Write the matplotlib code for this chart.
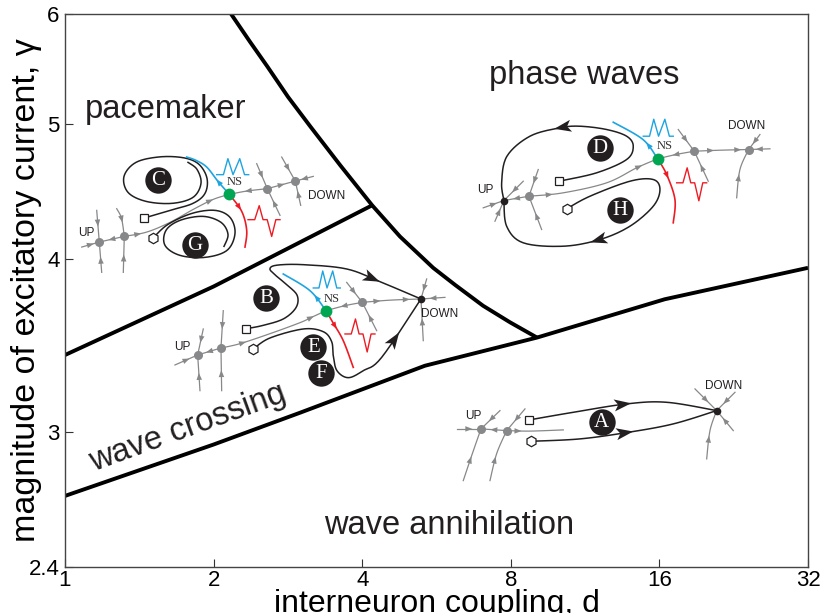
import numpy as np
import matplotlib
matplotlib.use("Agg")
import matplotlib.pyplot as plt
import matplotlib.transforms as mtransforms
from matplotlib.patches import Polygon

plt.rcParams["font.family"] = ["Liberation Sans", "DejaVu Sans"]

# ---- phase-diagram boundaries (d, gamma) ----
upper_d = [2.17, 2.37, 2.57, 2.83, 3.14, 3.61, 4.19, 4.77, 5.57, 6.17, 7.03, 7.97, 9.04]
upper_g = [6.0, 5.73, 5.50, 5.23, 4.98, 4.67, 4.37, 4.15, 3.94, 3.83, 3.70, 3.60, 3.51]
middle_d = [1.0, 2.0, 4.19]
middle_g = [3.41, 3.82, 4.37]
lower_d = [1.0, 2.0, 3.0, 5.36, 9.04, 16.4, 32.0]
lower_g = [2.70, 2.94, 3.10, 3.35, 3.51, 3.74, 3.94]

region_names = ["pacemaker", "phase waves", "wave crossing", "wave annihilation"]
region_d = [1.60, 11.26, 1.77, 6.0]
region_g = [5.12, 5.42, 3.02, 2.57]
region_rot = [0, 0, 20, 0]

d_ticks = [1, 2, 4, 8, 16, 32]
g_ticks = [2.4, 3, 4, 5, 6]
g_ticklabels = ["2.4", "3", "4", "5", "6"]

# anchor of each schematic inset (d, gamma)
panel_d = [2.152, 3.378, 15.87, 20.9]
panel_g = [4.45, 3.67, 4.72, 3.11]

GRAY = "#87888a"
BLACK = "#231f20"
BLUE = "#1ea4e0"
RED = "#ed1c24"
GREEN = "#00a651"

# blue / red spike templates (fraction of width, fraction of height)
blue_wave_x = [0, 0.21, 0.35, 0.51, 0.72, 0.87, 1.0]
blue_wave_y = [0, 0, 1, 0, 1, 0, 0]
red_wave_x = [0, 0.21, 0.35, 0.47, 0.6, 0.74, 0.87, 1.0]
red_wave_y = [0, 0, 1, 0, 0, -1.2, 0, 0]

# ---- schematic insets, sketch coordinates (px, y down) ----
pacemaker = dict(
    ref=(229.3, 194),
    gray=[
        ([(81.7, 246.7), (99.3, 241.7)], [0.5]),
        ([(124.3, 236), (99.3, 241.7)], [0.5]),
        ([(124.3, 236), (146.7, 231.7), (170, 222), (193.3, 209), (213.3, 199), (229.3, 194)], [0.12, 0.82]),
        ([(267.3, 188.3), (246.7, 190.7), (229.3, 194)], [0.5]),
        ([(267.3, 188.3), (295.3, 180.7)], [0.5]),
        ([(313.3, 176), (295.3, 180.7)], [0.5]),
        ([(96.7, 210), (99.3, 241.7)], [0.4]),
        ([(101.7, 272), (99.3, 241.7)], [0.4]),
        ([(116.7, 208.3), (121.5, 218), (124.3, 236)], [0.4]),
        ([(123.3, 272), (124.3, 236)], [0.4]),
        ([(256.7, 163.3), (267.3, 188.3)], [0.45]),
        ([(280, 215), (267.3, 188.3)], [0.45]),
        ([(281.7, 156.7), (295.3, 180.7)], [0.45]),
        ([(300.7, 205), (295.3, 180.7)], [0.45]),
    ],
    nodes=[((99.3, 241.7), GRAY), ((124.3, 236), GRAY), ((267.3, 188.3), GRAY), ((295.3, 180.7), GRAY)],
    ns=(229.3, 194),
    blue=[(229.3, 194), (218, 181), (206.7, 166.7), (196, 160), (186.7, 156.7)],
    red=[(229.3, 194), (241.7, 211), (246.7, 230), (245, 246.7)],
    blue_wave=(216.7, 174.3, 32, 16),
    red_wave=(248, 219.3, 32, 14),
    traj=[
        ([(144, 217.7), (170, 210), (193, 203), (205, 193), (207, 178), (199, 164), (184, 157.5), (160, 156.5),
          (136, 162), (124, 176), (128, 192), (146, 201), (172, 203), (193, 197), (201, 183), (197, 169), (188, 162)], None),
        ([(153.3, 237.3), (168, 224), (192, 213), (215, 210), (230, 217), (235, 233), (227, 250), (205, 257),
          (180, 255), (165, 245), (166, 230), (180, 220), (203, 216), (221, 222), (228, 234), (224, 246)], None),
    ],
    square=(144, 217.7), hexagon=(153.3, 237.3),
    labels=[("C", (158.3, 180)), ("G", (195, 245))],
    up=(86.7, 232.3), down=(326.7, 196), ns_text=(235, 181.7),
)

crossing = dict(
    ref=(326, 310),
    gray=[
        ([(175, 364.3), (197.7, 354.3)], [0.5]),
        ([(221, 347.3), (197.7, 354.3)], [0.5]),
        ([(221, 347.3), (240, 343), (270, 333), (300, 322), (313, 316), (326, 310)], [0.2, 0.85]),
        ([(362.3, 301.7), (345, 305), (326, 310)], [0.5]),
        ([(362.3, 301.7), (390, 299.5), (421, 298.3)], [0.25, 0.75]),
        ([(445, 296.7), (421, 298.3)], [0.5]),
        ([(203.3, 328.3), (197.7, 354.3)], [0.4]),
        ([(200, 390), (197.7, 354.3)], [0.4]),
        ([(223.3, 310), (221, 347.3)], [0.4]),
        ([(221.7, 390), (221, 347.3)], [0.4]),
        ([(346.7, 281.7), (362.3, 301.7)], [0.45]),
        ([(376.7, 330), (362.3, 301.7)], [0.45]),
        ([(426.7, 278.3), (421, 298.3)], [0.45]),
        ([(423.3, 340), (421, 298.3)], [0.45]),
    ],
    nodes=[((197.7, 354.3), GRAY), ((221, 347.3), GRAY), ((362.3, 301.7), GRAY), ((421, 298.3), BLACK)],
    ns=(326, 310),
    blue=[(326, 310), (310, 290), (283.3, 273.3)],
    red=[(326, 310), (333, 322), (343.3, 340), (353.3, 366.7)],
    blue_wave=(313.3, 287.3, 27, 17),
    red_wave=(345, 333.3, 30, 15),
    traj=[
        ([(246, 328), (262, 325), (283.3, 318.3), (296, 307), (297.3, 295), (288, 285), (276, 275), (270, 268.3),
          (277, 264.5), (303.3, 264), (346.7, 268.3), (380, 281), (421, 298.3)], 0.8),
        ([(253.3, 348.3), (270, 337.3), (303.3, 328.3), (323.3, 331), (331.7, 341), (333.3, 355), (337, 370),
          (348.3, 377), (363.3, 370), (381.7, 356.7), (421, 298.3)], 0.8),
    ],
    square=(246, 328), hexagon=(253.3, 348.3),
    labels=[("B", (266, 297.7)), ("E", (313.3, 346.7)), ("F", (321, 372.7))],
    up=(182.7, 346.7), down=(440, 313.3), ns_text=(331.7, 298.3),
)

phase = dict(
    ref=(657.7, 159.3),
    gray=[
        ([(483.3, 208.3), (504, 201)], [0.5]),
        ([(529, 196.7), (504, 201)], [0.5]),
        ([(529, 196.7), (563.3, 193.3), (606.7, 183.3), (636.7, 168.3), (657.7, 159.3)], [0.15, 0.85]),
        ([(694.3, 151.7), (676, 155), (657.7, 159.3)], [0.5]),
        ([(694.3, 151.7), (720, 150.7), (748.7, 150)], [0.3, 0.8]),
        ([(770, 149.3), (748.7, 150)], [0.5]),
        ([(523.3, 181.7), (504, 201)], [0.45]),
        ([(495, 221.7), (504, 201)], [0.45]),
        ([(538.3, 170), (529, 196.7)], [0.4]),
        ([(541.7, 230), (529, 196.7)], [0.4]),
        ([(678.3, 130), (694.3, 151.7)], [0.45]),
        ([(708.3, 181.7), (694.3, 151.7)], [0.45]),
        ([(760, 135), (748.7, 150)], [0.45]),
        ([(736.7, 198.3), (740, 170), (748.7, 150)], [0.4]),
    ],
    nodes=[((504, 201), BLACK), ((529, 196.7), GRAY), ((694.3, 151.7), GRAY), ((748.7, 150), GRAY)],
    ns=(657.7, 159.3),
    blue=[(657.7, 159.3), (643, 140), (613.3, 122.7)],
    red=[(657.7, 159.3), (666.7, 175), (675, 200), (673.3, 223.3)],
    blue_wave=(643.3, 136.7, 30, 17),
    red_wave=(676.7, 183.3, 30, 15),
    traj=[
        ([(559, 181.7), (596.7, 173.3), (626.7, 160), (633.3, 146.7), (626.7, 136.7), (606.7, 130), (580, 126.7),
          (560, 128.3), (530, 136.7), (507, 156.7), (501.7, 183.3), (504, 201)], 0.6),
        ([(566.7, 209.3), (590, 196.7), (630, 181.7), (653.3, 180), (660, 190), (653.3, 206.7), (630, 226.7),
          (600, 240), (563.3, 246.7), (523.3, 243.3), (506.7, 226.7), (504, 201)], 0.6),
    ],
    square=(559, 181.7), hexagon=(566.7, 209.3),
    labels=[("D", (600, 148.3)), ("H", (620, 210))],
    up=(485, 190.7), down=(746.7, 126), ns_text=(665, 146),
)

annihilation = dict(
    ref=(716.7, 410),
    gray=[
        ([(456.7, 428.3), (481, 428.3)], [0.5]),
        ([(506.7, 430), (481, 428.3)], [0.5]),
        ([(506.7, 430), (530, 430.5), (563.3, 429.3)], [0.2]),
        ([(500, 410), (481, 428.3)], [0.45]),
        ([(463.3, 480), (471.7, 455), (481, 428.3)], [0.4]),
        ([(525, 408.3), (506.7, 430)], [0.45]),
        ([(490, 480), (496.7, 453), (506.7, 430)], [0.4]),
        ([(695, 388.3), (716.7, 410)], [0.5]),
        ([(735, 391.7), (716.7, 410)], [0.5]),
        ([(733.3, 430), (716.7, 410)], [0.5]),
        ([(706.7, 458.3), (710, 430), (716.7, 410)], [0.4]),
    ],
    nodes=[((481, 428.3), GRAY), ((506.7, 430), GRAY), ((716.7, 410), BLACK)],
    ns=None, blue=None, red=None, blue_wave=None, red_wave=None,
    traj=[
        ([(529.3, 419.3), (573.3, 411.7), (626.7, 403.3), (666.7, 401.7), (716.7, 410)], 0.5),
        ([(530.7, 440.7), (580, 438.3), (628.3, 431.7), (673.3, 423.3), (716.7, 410)], 0.5),
    ],
    square=(529.3, 419.3), hexagon=(530.7, 440.7),
    labels=[("A", (601.7, 421.7))],
    up=(473.3, 415), down=(723.3, 385), ns_text=None,
)

panels = [pacemaker, crossing, phase, annihilation]


def smooth(pts, n=16):
    """Catmull-Rom curve through the sketch points."""
    p = np.asarray(pts, float)
    if len(p) < 3:
        return p
    p = np.vstack([p[0], p, p[-1]])
    out = []
    t = np.linspace(0, 1, n, endpoint=False)[:, None]
    for i in range(1, len(p) - 2):
        p0, p1, p2, p3 = p[i - 1], p[i], p[i + 1], p[i + 2]
        out.append(0.5 * (2 * p1 + (-p0 + p2) * t + (2 * p0 - 5 * p1 + 4 * p2 - p3) * t ** 2
                          + (-p0 + 3 * p1 - 3 * p2 + p3) * t ** 3))
    out.append(p[-2][None])
    return np.vstack(out)


def arrowhead(ax, tr, curve, frac, length, width, color, notch=0.0, z=5):
    seg = np.diff(curve, axis=0)
    seglen = np.hypot(seg[:, 0], seg[:, 1])
    keep = seglen > 1e-9
    seg, seglen = seg[keep], seglen[keep]
    base = curve[:-1][keep]
    cum = np.concatenate([[0], np.cumsum(seglen)])
    s = frac * cum[-1]
    i = int(np.clip(np.searchsorted(cum, s, side="right") - 1, 0, len(seg) - 1))
    u = seg[i] / seglen[i]
    c = base[i] + u * (s - cum[i])
    nrm = np.array([-u[1], u[0]])
    tip = c + u * length / 2
    back = c - u * length / 2
    pts = [tip, back + nrm * width / 2, back + u * notch, back - nrm * width / 2]
    ax.add_patch(Polygon(pts, closed=True, facecolor=color, edgecolor="none",
                         transform=tr, clip_on=False, zorder=z))


def draw_panel(ax, d0, g0, p):
    tr = (mtransforms.Affine2D().translate(-p["ref"][0], -p["ref"][1]).scale(1, -1)
          + mtransforms.ScaledTranslation(d0, g0, ax.transData))

    for pts, fracs in p["gray"]:
        c = smooth(pts)
        ax.plot(c[:, 0], c[:, 1], color=GRAY, lw=0.9, transform=tr, zorder=3, clip_on=False)
        for f in fracs:
            arrowhead(ax, tr, c, f, 7, 5.5, GRAY, z=3.5)

    for pts, frac in p["traj"]:
        c = smooth(pts)
        ax.plot(c[:, 0], c[:, 1], color=BLACK, lw=1.1, transform=tr, zorder=4, clip_on=False)
        if frac is not None:
            arrowhead(ax, tr, c, frac, 17, 12, BLACK, notch=4, z=4.5)

    for key, col in (("blue", BLUE), ("red", RED)):
        if p[key] is None:
            continue
        c = smooth(p[key])
        ax.plot(c[:, 0], c[:, 1], color=col, lw=1.2, transform=tr, zorder=4, clip_on=False)
        arrowhead(ax, tr, c, 0.28, 7, 5.5, col, z=4.5)

    if p["blue_wave"] is not None:
        x0, y0, w, h = p["blue_wave"]
        ax.plot(x0 + w * np.array(blue_wave_x), y0 - h * np.array(blue_wave_y),
                color=BLUE, lw=1.0, transform=tr, zorder=4, clip_on=False)
        x0, y0, w, h = p["red_wave"]
        ax.plot(x0 + w * np.array(red_wave_x), y0 - h * np.array(red_wave_y),
                color=RED, lw=1.0, transform=tr, zorder=4, clip_on=False)

    for (x, y), col in p["nodes"]:
        ms = 5.5 if col == BLACK else 6.5
        ax.plot([x], [y], "o", ms=ms, color=col, mec="none", transform=tr, zorder=6, clip_on=False)
    if p["ns"] is not None:
        ax.plot([p["ns"][0]], [p["ns"][1]], "o", ms=8.5, color=GREEN, mec="none",
                transform=tr, zorder=6, clip_on=False)

    ax.plot([p["square"][0]], [p["square"][1]], "s", ms=6, mfc="white", mec=BLACK, mew=0.9,
            transform=tr, zorder=6, clip_on=False)
    ax.plot([p["hexagon"][0]], [p["hexagon"][1]], "h", ms=7.5, mfc="white", mec=BLACK, mew=0.9,
            transform=tr, zorder=6, clip_on=False)

    for letter, (x, y) in p["labels"]:
        ax.plot([x], [y], "o", ms=19, color=BLACK, mec="none", transform=tr, zorder=6, clip_on=False)
        ax.text(x, y + 0.5, letter, transform=tr, color="white", fontsize=15,
                family="Liberation Serif", ha="center", va="center", zorder=7)

    ax.text(*p["up"], "UP", transform=tr, fontsize=8.5, color=BLACK, ha="center", va="center", zorder=7)
    ax.text(*p["down"], "DOWN", transform=tr, fontsize=8.5, color=BLACK, ha="center", va="center", zorder=7)
    if p["ns_text"] is not None:
        ax.text(*p["ns_text"], "NS", transform=tr, fontsize=9, color="#333333",
                family="Liberation Serif", ha="center", va="center", zorder=7)


fig = plt.figure(figsize=(8.25, 6.13), dpi=100)
ax = fig.add_axes([65 / 825, 46 / 613, 743 / 825, 553 / 613])
ax.set_xscale("log", base=2)
ax.set_yscale("log")
ax.set_xlim(1, 32)
ax.set_ylim(2.4, 6)
ax.autoscale(False)

ax.plot(upper_d, upper_g, color="black", lw=2.8, zorder=2, solid_capstyle="butt")
ax.plot(middle_d, middle_g, color="black", lw=2.8, zorder=2, solid_capstyle="butt")
ax.plot(lower_d, lower_g, color="black", lw=2.8, zorder=2, solid_capstyle="butt")

for name, d, g, rot in zip(region_names, region_d, region_g, region_rot):
    ax.text(d, g, name, fontsize=23.5, color=BLACK, ha="center", va="center",
            rotation=rot, rotation_mode="anchor", zorder=3)

for d0, g0, p in zip(panel_d, panel_g, panels):
    draw_panel(ax, d0, g0, p)

ax.set_xticks(d_ticks)
ax.set_xticklabels([str(t) for t in d_ticks])
ax.set_yticks(g_ticks)
ax.set_yticklabels(g_ticklabels)
ax.minorticks_off()
ax.tick_params(direction="in", length=6, width=0.8, labelsize=16, colors="#333333")
ax.tick_params(labelcolor="black")
ax.tick_params(axis="x", pad=2)
ax.tick_params(axis="y", pad=4)
for sp in ax.spines.values():
    sp.set_color("#444444")
    sp.set_linewidth(1.0)

ax.set_xlabel("interneuron coupling, d", fontsize=23, labelpad=-1)
ax.set_ylabel("magnitude of excitatory current, γ", fontsize=24.5)
ax.yaxis.set_label_coords(-0.031, 0.5)

fig.savefig("out.png", dpi=100)
